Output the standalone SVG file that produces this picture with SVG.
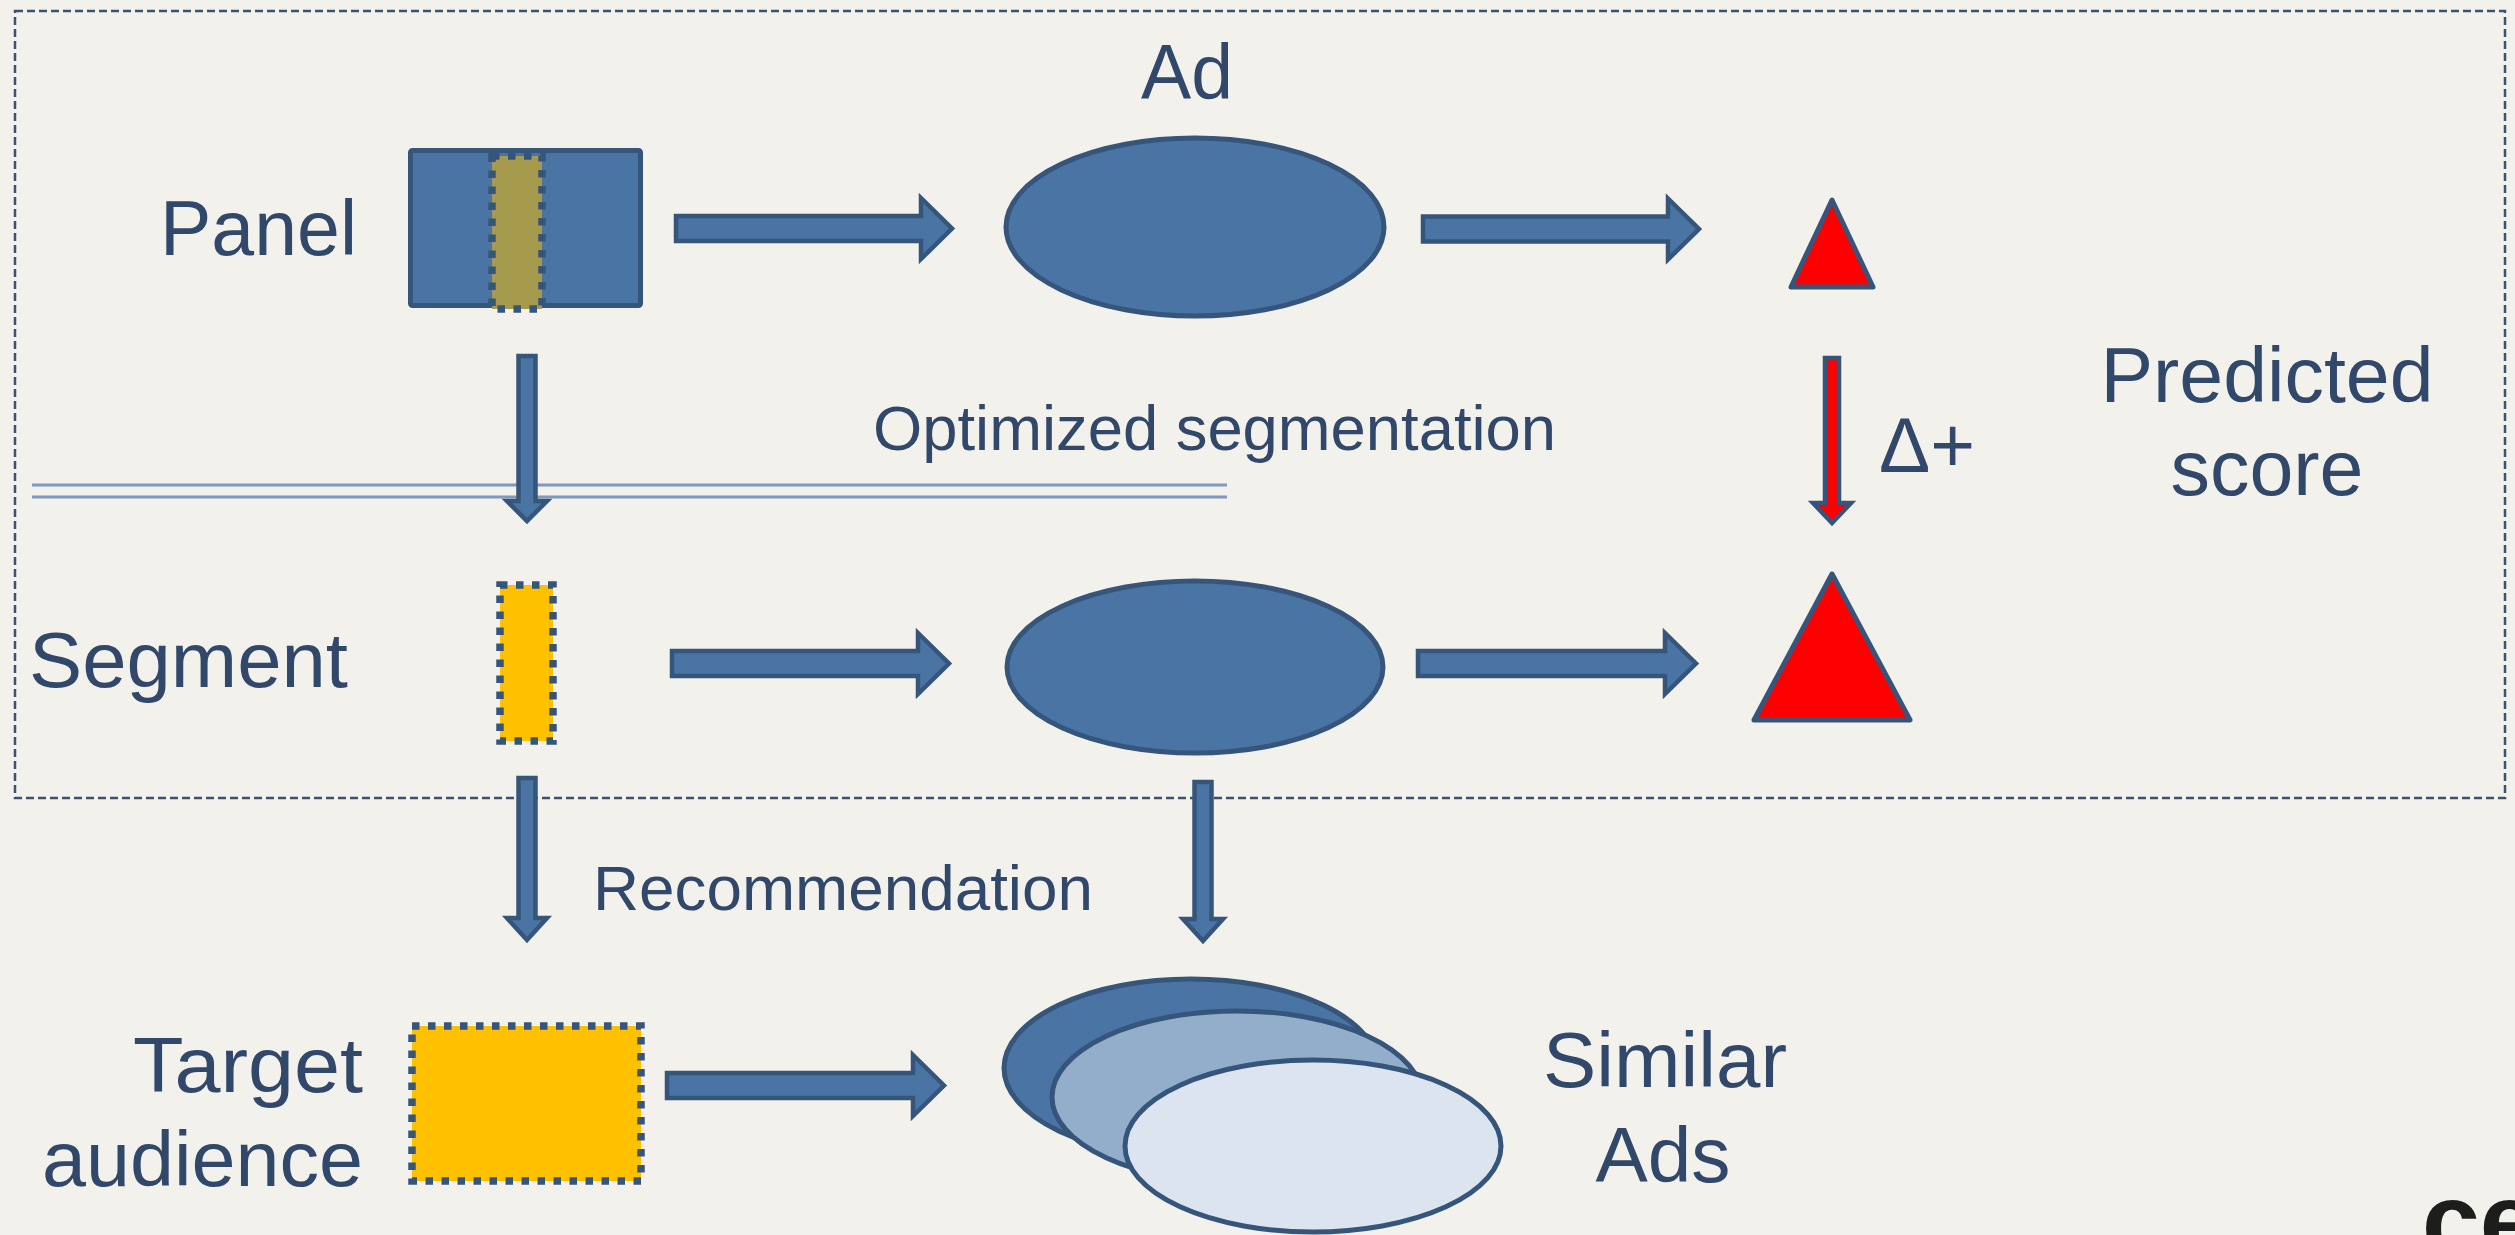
<svg xmlns="http://www.w3.org/2000/svg" width="2515" height="1235" viewBox="0 0 2515 1235">
  <style>
    .lbl { font-family: "Liberation Sans", Arial, sans-serif; font-size: 78px; fill: #31486a; }
    .mid { font-family: "Liberation Sans", Arial, sans-serif; font-size: 63px; fill: #31486a; }
    .blue { fill: #4a74a3; stroke: #36557a; stroke-width: 5; stroke-linejoin: miter; }
    .arrow { fill: #4a74a3; stroke: #36557a; stroke-width: 4.5; stroke-linejoin: miter; stroke-miterlimit: 10; }
    .dotted { stroke: #36557a; stroke-width: 7.5; stroke-dasharray: 7.5 8.5; }
    .tri { fill: #ff0000; stroke: #36557a; stroke-width: 5; stroke-linejoin: round; }
    .frame { fill: none; stroke: #3a5372; stroke-width: 2.5; stroke-dasharray: 8 4; }
    .rule { stroke: #8099c0; stroke-width: 3; }
  </style>

  <!-- paper background -->
  <rect x="0" y="0" width="2515" height="1235" fill="#f3f1ec"/>

  <!-- dashed region around the segmentation loop -->
  <rect class="frame" x="15" y="11" width="2490" height="787"/>

  <!-- double rule under the panel column -->
  <line class="rule" x1="32" y1="485" x2="1227" y2="485"/>
  <line class="rule" x1="32" y1="497" x2="1227" y2="497"/>

  <!-- connectors -->
  <g id="connectors">
    <!-- panel -> ad -->
    <path class="arrow" d="M676 216 H921 V198 L952 228.5 L921 259 V241 H676 Z"/>
    <!-- ad -> score -->
    <path class="arrow" d="M1423 216.5 H1668 V198.5 L1699 229 L1668 259.5 V241.5 H1423 Z"/>
    <!-- segment -> ad -->
    <path class="arrow" d="M672 651 H918 V633 L949 663.5 L918 694 V676 H672 Z"/>
    <!-- ad -> improved score -->
    <path class="arrow" d="M1418 651 H1665 V633 L1696 663.5 L1665 694 V676 H1418 Z"/>
    <!-- target audience -> similar ads -->
    <path class="arrow" d="M667 1073 H913 V1055 L944 1085.5 L913 1116 V1098 H667 Z"/>
    <!-- panel -> segment -->
    <path class="arrow" d="M518.5 356 H535.5 V501 H547 L527 521 L507 501 H518.5 Z"/>
    <!-- segment -> target audience -->
    <path class="arrow" d="M518.5 778 H535.5 V918 H547 L527 940 L507 918 H518.5 Z"/>
    <!-- ad -> similar ads -->
    <path class="arrow" d="M1194.5 782 H1211.5 V919 H1223 L1203 941 L1183 919 H1194.5 Z"/>
    <!-- score delta -->
    <path d="M1825 358 H1839 V503 H1851 L1832 523 L1813 503 H1825 Z" fill="#ff0000" stroke="#36557a" stroke-width="4.5"/>
  </g>

  <!-- panel with selected slice -->
  <g id="panel">
    <rect class="blue" x="410.5" y="150.5" width="230" height="155" rx="2"/>
    <rect class="dotted" x="492" y="156" width="50" height="153" fill="#a69a4c"/>
    <text class="lbl" x="160" y="255" textLength="197" lengthAdjust="spacingAndGlyphs">Panel</text>
  </g>

  <!-- ad -->
  <g id="ad">
    <ellipse class="blue" cx="1195" cy="227" rx="189" ry="89"/>
    <text class="lbl" x="1187" y="99" text-anchor="middle" textLength="92" lengthAdjust="spacingAndGlyphs">Ad</text>
  </g>

  <!-- predicted score -->
  <g id="score">
    <polygon class="tri" points="1832,200 1873,287 1791,287"/>
    <text class="lbl" x="2267" y="402" text-anchor="middle" textLength="333" lengthAdjust="spacingAndGlyphs">Predicted</text>
    <text class="lbl" x="2267" y="495" text-anchor="middle" textLength="193" lengthAdjust="spacingAndGlyphs">score</text>
    <text class="lbl" x="1879" y="472" textLength="96" lengthAdjust="spacingAndGlyphs">Δ+</text>
  </g>

  <!-- optimized segmentation label -->
  <g id="optimized">
    <text class="mid" x="873" y="450" textLength="683" lengthAdjust="spacingAndGlyphs">Optimized segmentation</text>
  </g>

  <!-- segment -->
  <g id="segment">
    <rect class="dotted" x="500" y="585" width="53" height="156" fill="#ffc000"/>
    <text class="lbl" x="29" y="687" textLength="319" lengthAdjust="spacingAndGlyphs">Segment</text>
  </g>

  <!-- ad with segment -->
  <g id="ad-segment">
    <ellipse class="blue" cx="1195" cy="667" rx="188" ry="86"/>
  </g>

  <!-- improved score -->
  <g id="score-improved">
    <polygon class="tri" points="1832,574 1910,720 1754,720"/>
  </g>

  <!-- recommendation label -->
  <g id="recommendation">
    <text class="mid" x="593" y="910" textLength="500" lengthAdjust="spacingAndGlyphs">Recommendation</text>
  </g>

  <!-- target audience -->
  <g id="target">
    <rect class="dotted" x="412" y="1026" width="229" height="155" fill="#ffc000"/>
    <text class="lbl" x="363" y="1092" text-anchor="end" textLength="230" lengthAdjust="spacingAndGlyphs">Target</text>
    <text class="lbl" x="363" y="1186" text-anchor="end" textLength="321" lengthAdjust="spacingAndGlyphs">audience</text>
  </g>

  <!-- similar ads stack -->
  <g id="similar-ads">
    <ellipse cx="1191" cy="1068" rx="187" ry="89" fill="#4a74a3" stroke="#36557a" stroke-width="5"/>
    <ellipse cx="1237" cy="1097" rx="185" ry="86" fill="#93aecb" stroke="#36557a" stroke-width="5"/>
    <ellipse cx="1313" cy="1146" rx="188" ry="86" fill="#dce5ef" stroke="#36557a" stroke-width="5"/>
    <text class="lbl" x="1665" y="1087" text-anchor="middle" textLength="244" lengthAdjust="spacingAndGlyphs">Similar</text>
    <text class="lbl" x="1663" y="1182" text-anchor="middle" textLength="135" lengthAdjust="spacingAndGlyphs">Ads</text>
  </g>

  <!-- corner mark, running off the bottom edge -->
  <text x="2422" y="1256" font-family="Liberation Sans, Arial, sans-serif" font-weight="bold" font-size="104" fill="#1d1d1b">ce</text>
</svg>
